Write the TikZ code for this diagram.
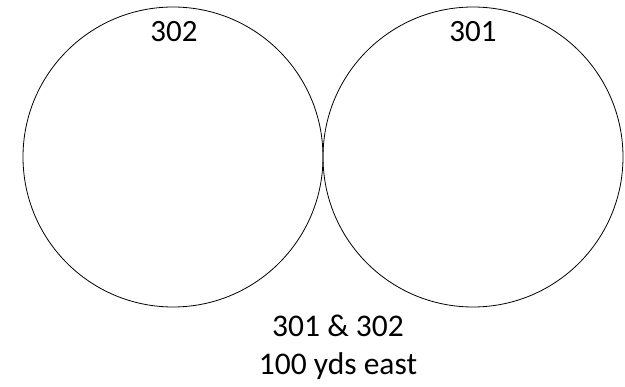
\documentclass[tikz,border=0pt]{standalone}
\usepackage{fontspec}
\setmainfont{Carlito}
\usetikzlibrary{positioning}
\tikzset{
  zona/.style  = {circle, draw, line width=0.8pt, minimum size=300pt, inner sep=0},
  num/.style   = {font=\fontsize{31}{36}\selectfont, inner sep=0, anchor=base},
  nota/.style  = {font=\fontsize{31.5}{38}\selectfont, inner sep=0, anchor=base}
}
\begin{document}
\begin{tikzpicture}[x=1pt, y=-1pt]
  \useasboundingbox (0,0) rectangle (625,387);

  % ---------- zone ----------
  \node[zona] (Z302) at (173,157) {};
  \node[zona] (Z301) at (473,157) {};

  \node[num] (n302) at (174,42) {302};
  \node[num] (n301) at (473,42) {301};

  % ---------- nota ----------
  \node[nota] (dir)  at (338,337) {301 \& 302};
  \node[nota] (dist) at (338,375) {100 yds east};

\end{tikzpicture}
\end{document}
